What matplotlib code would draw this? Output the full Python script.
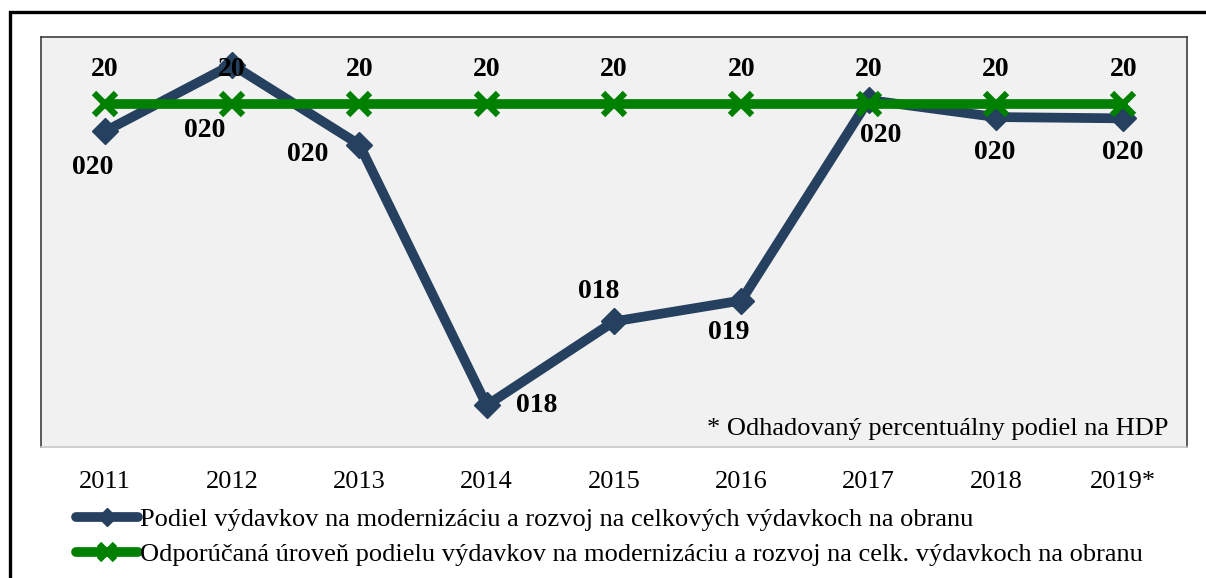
import numpy as np
import matplotlib
matplotlib.use('Agg')
import matplotlib.pyplot as plt
from matplotlib.patches import Rectangle

# data
roky = ['2011', '2012', '2013', '2014', '2015', '2016', '2017', '2018', '2019*']
podiel = [19.79, 20.30, 19.69, 17.70, 18.34, 18.50, 20.03, 19.90, 19.89]
odporucana = [20, 20, 20, 20, 20, 20, 20, 20, 20]
podiel_popisky = ['020', '020', '020', '018', '018', '019', '020', '020', '020']
odporucana_popisky = ['20'] * 9
nazov_1 = 'Podiel výdavkov na modernizáciu a rozvoj na celkových výdavkoch na obranu'
nazov_2 = 'Odporúčaná úroveň podielu výdavkov na modernizáciu a rozvoj na celk. výdavkoch na obranu'
poznamka = '* Odhadovaný percentuálny podiel na HDP'

plt.rc('font', family=['Liberation Serif', 'DejaVu Serif'], size=19)

fig = plt.figure(figsize=(12.06, 5.78), dpi=100)
ax = fig.add_axes([41 / 1206, 1 - 447 / 578, 1146 / 1206, 410 / 578])
ax.set_facecolor('#f1f1f1')

# vonkajsi ramcek
fig.patches.append(Rectangle((10 / 1206, -0.1), 1.2, 1 - 12 / 578 + 0.1, transform=fig.transFigure,
                             fill=False, edgecolor='black', linewidth=2.4, clip_on=False))

x = np.arange(len(roky))
modra = '#26405f'
zelena = '#008000'

l1, = ax.plot(x, podiel, color=modra, linewidth=7, marker='D', markersize=13,
              markerfacecolor=modra, markeredgecolor=modra, solid_joinstyle='miter', zorder=3)
l2, = ax.plot(x, odporucana, color=zelena, linewidth=7, marker='x', markersize=16,
              markeredgewidth=4.5, zorder=4)

# popisky hodnot
offsets = [(-12, -36), (-27, -66), (-52, -10), (50, 0), (-15, 30),
           (-13, -32), (12, -35), (-1, -35), (-1, -34)]
for i in range(len(x)):
    ax.annotate(podiel_popisky[i], (x[i], podiel[i]), xytext=offsets[i], textcoords='offset pixels',
                ha='center', va='center', fontsize=20, fontweight='bold', zorder=6)
    ax.annotate(odporucana_popisky[i], (x[i], odporucana[i]), xytext=(0, 34), textcoords='offset pixels',
                ha='center', va='center', fontsize=20, fontweight='bold', zorder=6)

ax.set_xlim(-0.5, len(roky) - 0.5)
ax.set_ylim(17.382, 20.511)
ax.set_xticks(x)
ax.set_xticklabels(roky)
ax.set_yticks([])
ax.tick_params(axis='x', length=0, pad=17, labelsize=19)

for s in ['left', 'top', 'right']:
    ax.spines[s].set_color('#404040')
    ax.spines[s].set_linewidth(1.2)
ax.spines['bottom'].set_color('#c8c8c8')
ax.spines['bottom'].set_linewidth(1.2)

# poznamka (spodok orezany)
t = ax.text(0.9834, 0.029, poznamka, transform=ax.transAxes, ha='right', va='baseline', fontsize=19)
clip = Rectangle((0, 0.024), 1, 1, transform=ax.transAxes)
t.set_clip_path(clip)

leg = fig.legend(handles=[l1, l2], labels=[nazov_1, nazov_2], loc='upper left',
                 bbox_to_anchor=(76 / 1206, 1 - 508 / 578), frameon=False, fontsize=19,
                 handlelength=2.35, handletextpad=0.08, labelspacing=0.42, borderpad=0, borderaxespad=0,
                 markerscale=0.7)
for h in leg.legend_handles:
    h.set_solid_capstyle('round')

plt.savefig('out.png', dpi=100)
